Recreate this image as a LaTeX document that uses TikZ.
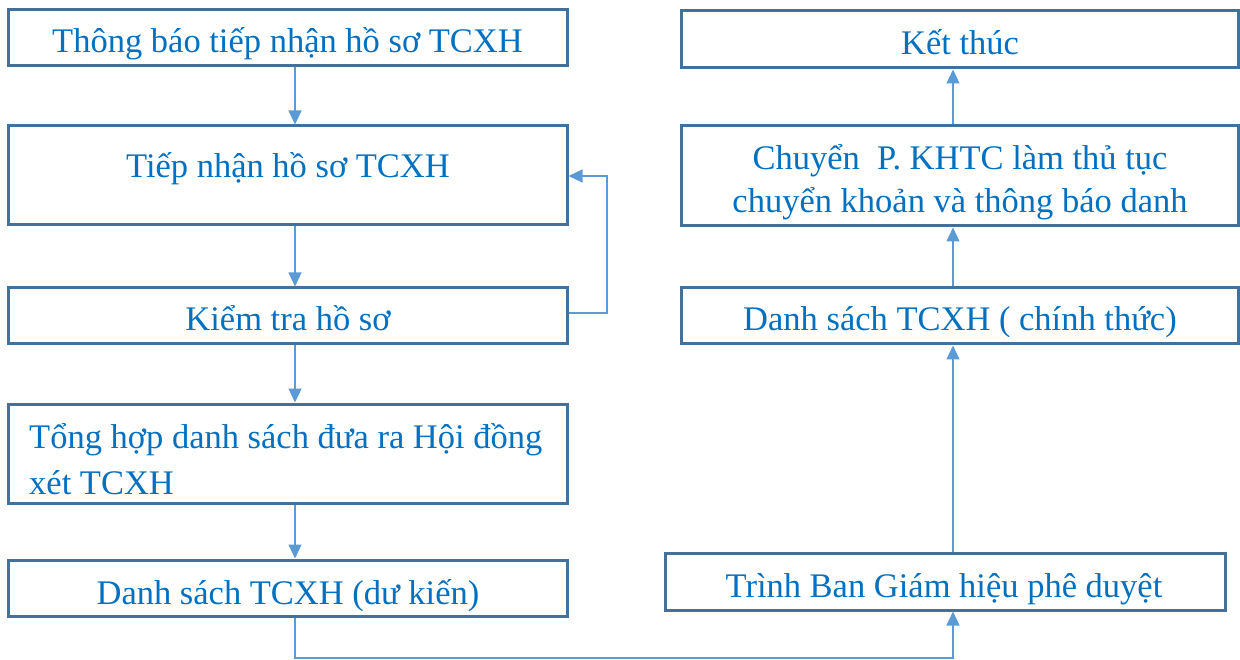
\documentclass[tikz,border=0pt]{standalone}
\usepackage{fontspec}
\setmainfont{Liberation Serif}
\usetikzlibrary{arrows.meta}
\definecolor{boxc}{HTML}{41719C}
\definecolor{linec}{HTML}{5B9BD5}
\definecolor{textc}{HTML}{0070C0}
\begin{document}
\begin{tikzpicture}[x=1pt,y=-1pt,
  stepbox/.style={draw=boxc, line width=3pt, inner sep=0pt, fill=white},
  lbl/.style={text=textc, font=\fontsize{34.5}{40}\selectfont, inner sep=0pt, anchor=base},
  lbll/.style={lbl, anchor=base west},
  conn/.style={draw=linec, line width=1.2pt},
  arr/.style={conn, -{Triangle[length=14pt,width=13pt]}}]
\useasboundingbox (0,0) rectangle (1240,660);
% left column boxes
\node[stepbox, minimum width=559pt, minimum height=56pt] (b1) at (287.5,38) {};
\node[stepbox, minimum width=559pt, minimum height=99pt] (b2) at (287.5,175.5) {};
\node[stepbox, minimum width=559pt, minimum height=56pt] (b3) at (287.5,316) {};
\node[stepbox, minimum width=559pt, minimum height=99pt] (b4) at (287.5,453.5) {};
\node[stepbox, minimum width=559pt, minimum height=56pt] (b5) at (287.5,588) {};
% right column boxes
\node[stepbox, minimum width=557pt, minimum height=57pt] (r1) at (959.5,39.5) {};
\node[stepbox, minimum width=557pt, minimum height=100pt] (r2) at (959.5,176) {};
\node[stepbox, minimum width=557pt, minimum height=56pt] (r3) at (959.5,316) {};
\node[stepbox, minimum width=560pt, minimum height=57pt] (r4) at (945,581.5) {};
% labels
\node[lbl] (t1) at (287.5,53) {Thông báo tiếp nhận hồ sơ TCXH};
\node[lbl] (t2) at (288,178) {Tiếp nhận hồ sơ TCXH};
\node[lbl] (t3) at (288,331) {Kiểm tra hồ sơ};
\node[lbll] (t4a) at (29,448) {Tổng hợp danh sách đưa ra Hội đồng};
\node[lbll] (t4b) at (29,494) {xét TCXH};
\node[lbl] (t5) at (288,604) {Danh sách TCXH (dư kiến)};
\node[lbl] (u1) at (960,55) {Kết thúc};
\node[lbl] (u2a) at (960,170) {Chuyển\ \ P. KHTC làm thủ tục};
\node[lbl] (u2b) at (960,213) {chuyển khoản và thông báo danh};
\node[lbl] (u3) at (960,331) {Danh sách TCXH ( chính thức)};
\node[lbl] (u4) at (944,597) {Trình Ban Giám hiệu phê duyệt};
% connector guide coordinates
\coordinate (lx) at (295,0);
\coordinate (rx) at (953,0);
\coordinate (fb1) at (607,313);
\coordinate (fb2) at (607,176);
\coordinate (bl) at (295,658);
\coordinate (br) at (953,658);
% connectors
\draw[arr] (b1.south -| lx) -- (b2.north -| lx);
\draw[arr] (b2.south -| lx) -- (b3.north -| lx);
\draw[arr] (b3.south -| lx) -- (b4.north -| lx);
\draw[arr] (b4.south -| lx) -- (b5.north -| lx);
\draw[arr] (b3.east |- fb1) -- (fb1) -- (fb2) -- (b2.east |- fb2);
\draw[arr] (b5.south -| bl) -- (bl) -- (br) -- (r4.south -| br);
\draw[arr] (r4.north -| rx) -- (r3.south -| rx);
\draw[arr] (r3.north -| rx) -- (r2.south -| rx);
\draw[arr] (r2.north -| rx) -- (r1.south -| rx);
\end{tikzpicture}
\end{document}
